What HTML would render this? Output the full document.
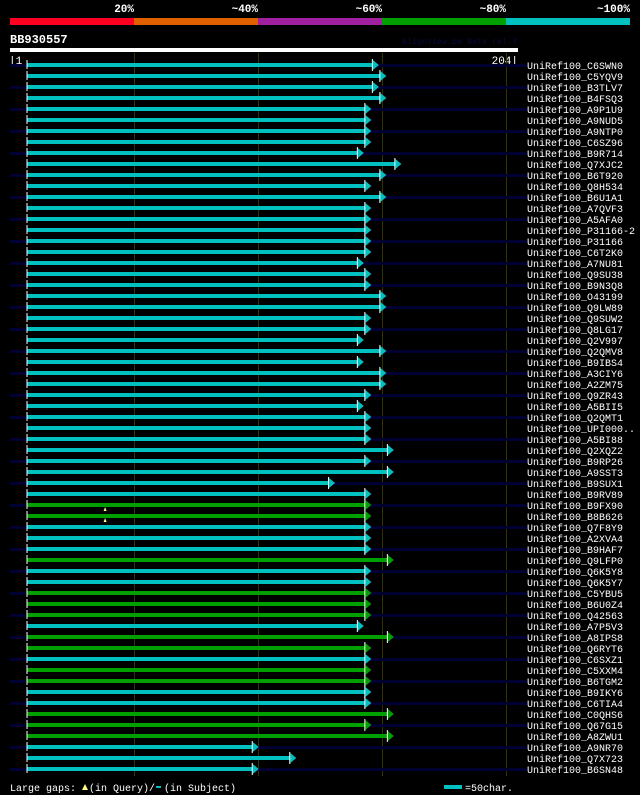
<!DOCTYPE html>
<html><head><meta charset="utf-8"><style>
html,body{margin:0;padding:0;background:#000;}
svg{display:block;font-family:"Liberation Mono",monospace;}
</style></head><body>
<svg id="chart" width="640" height="795" viewBox="0 0 640 795" xmlns="http://www.w3.org/2000/svg">
<rect x="0" y="0" width="640" height="795" fill="#000"/>
<g id="topg"></g>
<text x="10" y="43" fill="#fff" font-size="12" font-weight="bold">BB930557</text>
<text x="402" y="44" fill="#0a0a40" font-size="8" textLength="115">AlignView.pm Beta rel.7</text>
<rect x="10" y="48" width="508" height="4" fill="#fff"/>
<text x="9" y="64" fill="#fff" font-size="11">|1</text>
<text x="518" y="64" fill="#fff" font-size="11" text-anchor="end">204|</text>
<g id="grid"></g>
<g id="rows"></g>
<g>
<text x="10" y="791" fill="#fff" font-size="10">Large gaps:</text>
<path d="M82 790 L85 784 L88 790 Z" fill="#ffff80"/>
<text x="89" y="791" fill="#fff" font-size="10">(in Query)/</text>
<rect x="156" y="786" width="5" height="2" fill="#00c0c0"/>
<text x="164" y="791" fill="#fff" font-size="10">(in Subject)</text>
<rect x="444" y="785" width="18" height="4" fill="#00c0c0"/>
<text x="465" y="791" fill="#fff" font-size="10">=50char.</text>
</g>
</svg>
<script>
const pctLabels = ["20%","~40%","~60%","~80%","~100%"];
const pctColors = ["#ff0020","#e06000","#a020a0","#00a000","#00c0c0"];
const names = ["C6SWN0","C5YQV9","B3TLV7","B4FSQ3","A9P1U9","A9NUD5","A9NTP0","C6SZ96","B9R714","Q7XJC2","B6T920","Q8H534","B6U1A1","A7QVF3","A5AFA0","P31166-2","P31166","C6T2K0","A7NU81","Q9SU38","B9N3Q8","O43199","Q9LW89","Q9SUW2","Q8LG17","Q2V997","Q2QMV8","B9IBS4","A3CIY6","A2ZM75","Q9ZR43","A5BII5","Q2QMT1","UPI000..","A5BI88","Q2XQZ2","B9RP26","A9SST3","B9SUX1","B9RV89","B9FX90","B8B626","Q7F8Y9","A2XVA4","B9HAF7","Q9LFP0","Q6K5Y8","Q6K5Y7","C5YBU5","B6U0Z4","Q42563","A7P5V3","A8IPS8","Q6RYT6","C6SXZ1","C5XXM4","B6TGM2","B9IKY6","C6TIA4","C0QHS6","Q67G15","A8ZWU1","A9NR70","Q7X723","B6SN48"];
const startPos = 8;
const endPos = [146,149,146,149,143,143,143,143,140,155,149,143,149,143,143,143,143,143,140,143,143,149,149,143,143,140,149,140,149,149,143,140,143,143,143,152,143,152,128.5,143,143,143,143,143,143,152,143,143,143,143,143,140,152,143,143,143,143,143,143,152,143,152,98,113,98];
const identity = [5,5,5,5,5,5,5,5,5,5,5,5,5,5,5,5,5,5,5,5,5,5,5,5,5,5,5,5,5,5,5,5,5,5,5,5,5,5,5,5,4,4,5,5,5,4,5,5,4,4,4,5,4,4,5,4,4,5,5,4,4,4,5,5,5];
const gapRows = [40,41];
const gapPos = [39,39];

const NS="http://www.w3.org/2000/svg";
const xq = q => 10 + (q-1)*(508/203);
const yr = i => 65 + i*11;
function mk(tag, attrs, parent){const e=document.createElementNS(NS,tag);for(const k in attrs)e.setAttribute(k,attrs[k]);parent.appendChild(e);return e;}

const topG=document.getElementById('topg');
pctLabels.forEach((lab,i)=>{
  const r=mk('rect',{x:10+i*124,y:18,width:124,height:7,fill:pctColors[i]},topG);
  
  
  const t=mk('text',{x:134+i*124,y:12,fill:'#fff','font-size':'11','font-weight':'bold','text-anchor':'end'},topG);
  t.textContent=lab;
  
  
});
const grid=document.getElementById('grid');
for(let i=0;i<4;i++){
  const l=mk('line',{x1:134.5+i*124,x2:134.5+i*124,y1:53,y2:776,stroke:'#333300','stroke-width':1},grid);
  
  
}
const rowsG=document.getElementById('rows');
names.forEach((n,i)=>{
  const y=yr(i);
  const g=mk('g',{},rowsG);
  
  
  if(i%2===0){const b=mk('rect',{x:10,y:y-1,width:517,height:3,fill:'#000033'},g);
    
    }
  const x0=xq(startPos), x1=xq(endPos[i]);
  const col=pctColors[identity[i]-1];
  const bar=mk('rect',{x:x0,y:y-2,width:x1-x0,height:4,fill:col},g);
  
  
  const tk=mk('rect',{x:x0-1,y:y-5,width:1,height:9,fill:'#fff'},g);
  
  
  const ar=mk('path',{d:`M${x1} ${y-5} L${x1+6} ${y} L${x1} ${y+5} Z`,fill:col},g);
  
  
  const ae=mk('rect',{x:x1-1,y:y-6,width:1,height:12,fill:'#fff'},g);
  
  
  const t=mk('text',{x:527,y:y+4,fill:'#fff','font-size':'10'},g);
  t.textContent='UniRef100_'+n;
  
  
});
gapRows.forEach((r,k)=>{
  const x=xq(gapPos[k]), y=yr(r);
  const p=mk('path',{d:`M${x-1.5} ${y+6} L${x} ${y+2} L${x+1.5} ${y+6} Z`,fill:'#ffff80'},rowsG);
  
  
});
</script>
</body></html>
